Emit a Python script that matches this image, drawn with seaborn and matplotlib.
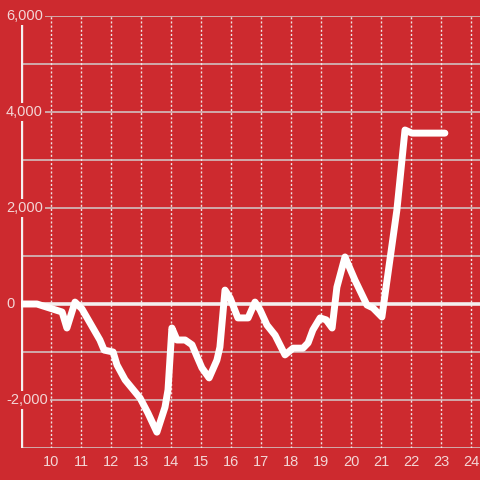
import pandas as pd
import seaborn as sns
from matplotlib import pyplot as plt

# values
hours = [9.0, 9.53, 10.37, 10.53, 10.8, 11.03, 11.63, 11.77, 12.07, 12.2,
         12.47, 12.97, 13.23, 13.53, 13.8, 13.9, 14.03, 14.2, 14.47, 14.7,
         14.87, 15.03, 15.27, 15.53, 15.63, 15.8, 15.97, 16.23, 16.57, 16.8,
         16.97, 17.2, 17.47, 17.8, 18.07, 18.4, 18.57, 18.73, 18.97, 19.17,
         19.37, 19.53, 19.8, 20.13, 20.53, 20.73, 21.03, 21.53, 21.8, 22.03,
         23.13]
values = [0, 0, -167, -500, 40, -100, -750, -960, -1000, -1270,
          -1580, -1960, -2270, -2670, -2150, -1790, -500, -750, -750, -850,
          -1100, -1330, -1540, -1170, -900, 290, 125, -290, -290, 40,
          -125, -440, -650, -1060, -920, -920, -810, -540, -290, -330,
          -500, 350, 980, 500, -20, -80, -270, 1960, 3625, 3560,
          3560]
x_ticks = list(range(10, 25))
y_ticks = [6000, 4000, 2000, 0, -2000]
y_labels = ["6,000", "4,000", "2,000", "0", "-2,000"]

red = "#cd2a2f"
pale = "#f3d6d6"

sns.set_theme(style="white", rc={"axes.facecolor": red, "figure.facecolor": red})
plt.rcParams["font.family"] = ["Liberation Sans", "DejaVu Sans"]

df = pd.DataFrame({"hour": hours, "value": values})

fig = plt.figure(figsize=(4.8, 4.8), dpi=100)
ax = fig.add_axes([21 / 480, 32 / 480, 459 / 480, 432 / 480])

# grid lines
for v in range(-3000, 6001, 1000):
    ax.axhline(v, color="#d2cccc", lw=1.1, zorder=1)
for h in x_ticks:
    ax.axvline(h, color="#efe6e6", lw=1, ls=(0, (1.5, 1.5)), zorder=1)
ax.axhline(0, color="#f4f0f0", lw=2.6, zorder=2)
ax.axvline(9, color="#f4f0f0", lw=2.4, zorder=2)

sns.lineplot(data=df, x="hour", y="value", color="white", lw=5,
             ax=ax, zorder=3)

ax.set_xlim(9, 24.3)
ax.set_ylim(-3000, 6000)
for s in ax.spines.values():
    s.set_visible(False)

ax.set_xticks(x_ticks)
ax.set_xticklabels([str(t) for t in x_ticks], color=pale, fontsize=10.5)
ax.tick_params(axis="x", length=0, pad=5)
ax.set_yticks([])
ax.set_xlabel("")
ax.set_ylabel("")

# y labels sit on top of the axis line, with a red box behind them
for v, lab in zip(y_ticks, y_labels):
    ax.text(6 / 480, v, lab, transform=ax.get_yaxis_transform(),
            ha="left", va="center", color=pale, fontsize=10.5, zorder=5,
            bbox=dict(boxstyle="square,pad=0.15", fc=red, ec="none"))
for t in ax.texts:
    t.set_x((6 - 21) / 459)
    t.set_clip_on(False)

fig.savefig("out.png", dpi=100, facecolor=red)
